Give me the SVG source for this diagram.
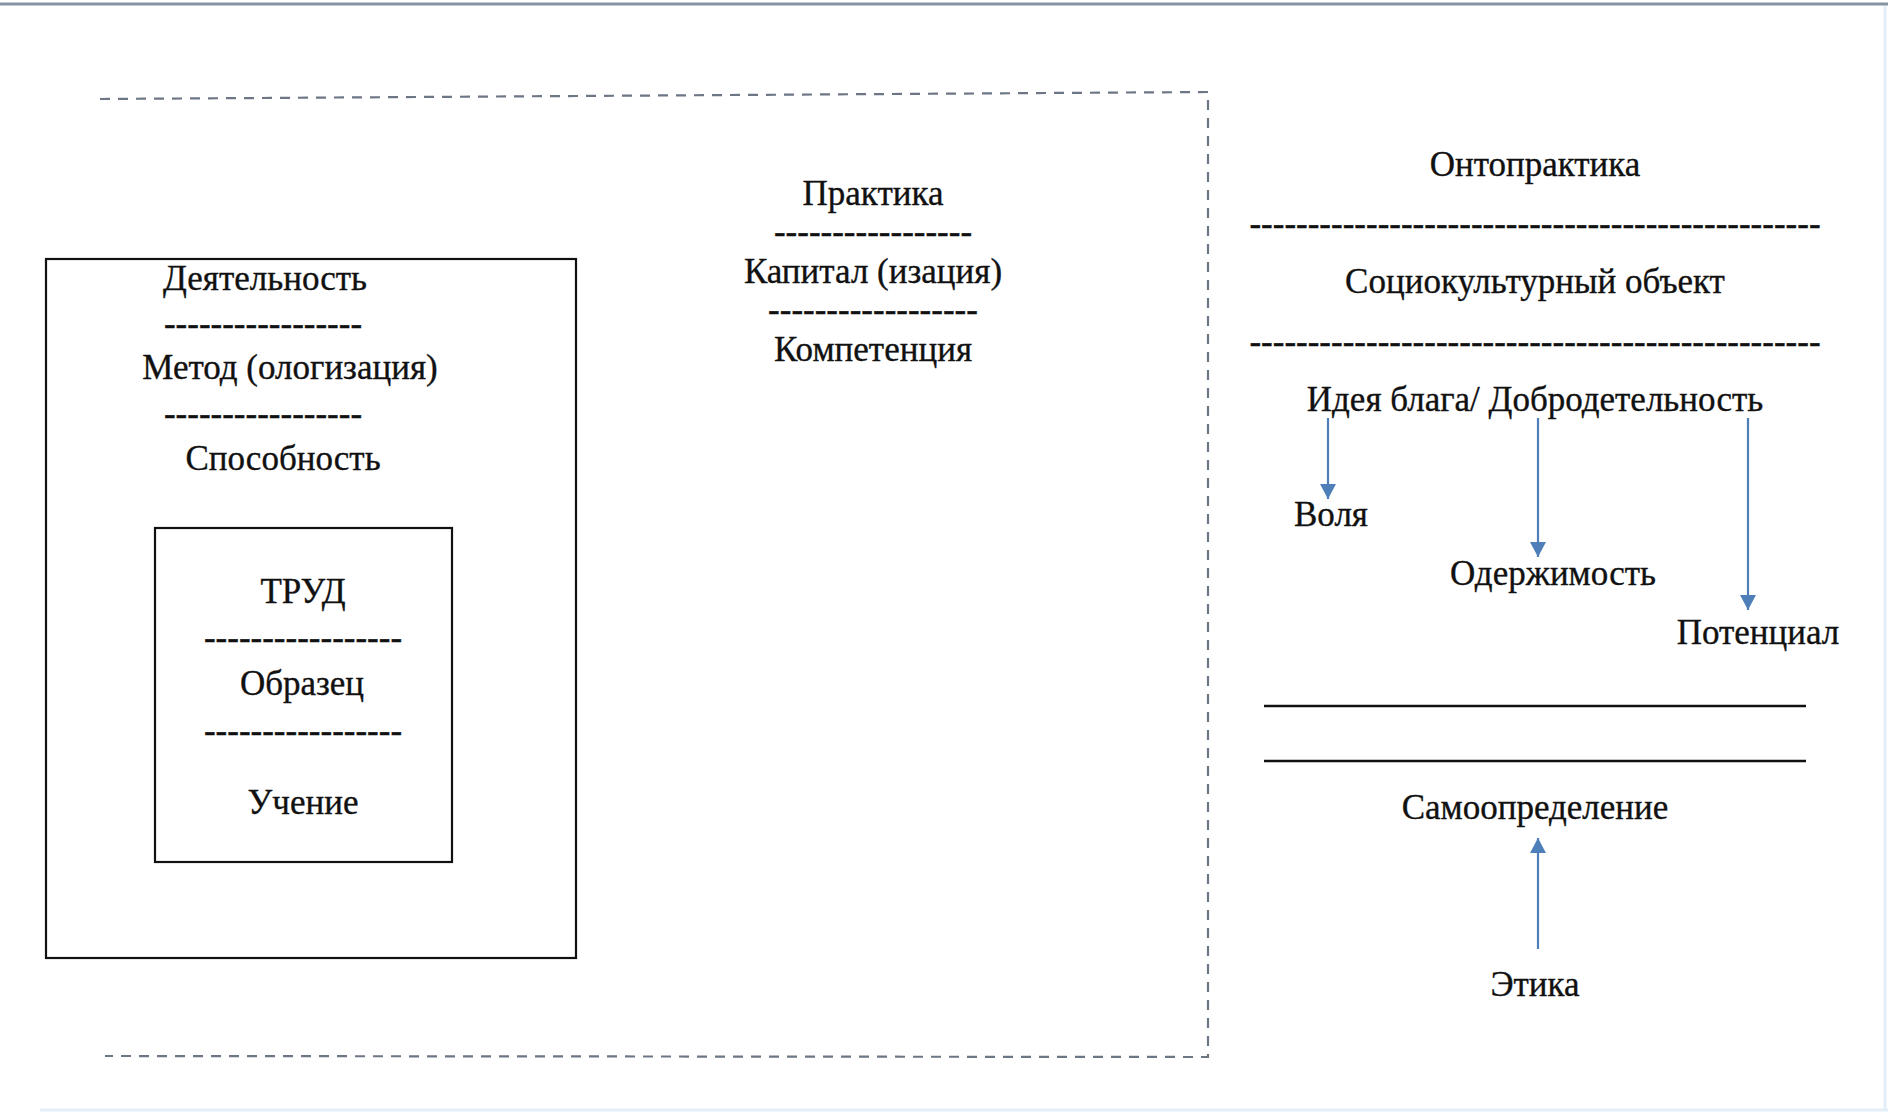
<svg xmlns="http://www.w3.org/2000/svg" width="1888" height="1113" viewBox="0 0 1888 1113">
<defs>
<style>
.t{font-family:"Liberation Serif","Times New Roman",serif;font-size:35px;fill:#111;stroke:#111;stroke-width:0.35;text-anchor:middle;dominant-baseline:central}
.box{fill:none;stroke:#111;stroke-width:2.2}
.frame{fill:none;stroke:#6c7685;stroke-width:2.2;stroke-dasharray:10 8}
.arr{fill:none;stroke:#4f7fb8;stroke-width:2.2}
.sol{stroke:#111;stroke-width:2.4}
</style>
<marker id="ah" viewBox="0 0 15 16" refX="15" refY="8" markerWidth="15" markerHeight="16" markerUnits="userSpaceOnUse" orient="auto">
<path d="M0,0 L15,8 L0,16 Z" fill="#4f7fb8"/>
</marker>
</defs>
<rect width="1888" height="1113" fill="#fff"/>
<line x1="0" y1="4" x2="1888" y2="4" stroke="#8593a3" stroke-width="3"/>
<line x1="40" y1="1110" x2="1888" y2="1110" stroke="#e3eef8" stroke-width="3"/>
<line x1="1885" y1="6" x2="1885" y2="1110" stroke="#e3eef8" stroke-width="3"/>

<g id="frame">
<path class="frame" d="M100,99 L1208,92 L1208,1057 L105,1056"/>
</g>

<g id="deyatelnost">
<rect class="box" x="46" y="259" width="530" height="699"/>
<text class="t" x="265" y="278">Деятельность</text>
<text class="t" x="263" y="323">-----------------</text>
<text class="t" x="290" y="367">Метод (ологизация)</text>
<text class="t" x="263" y="413">-----------------</text>
<text class="t" x="283" y="458">Способность</text>
</g>

<g id="trud">
<rect class="box" x="155" y="528" width="297" height="334"/>
<text class="t" x="303" y="591">ТРУД</text>
<text class="t" x="303" y="637">-----------------</text>
<text class="t" x="302" y="683">Образец</text>
<text class="t" x="303" y="730">-----------------</text>
<text class="t" x="303" y="802">Учение</text>
</g>

<g id="praktika">
<text class="t" x="873" y="193">Практика</text>
<text class="t" x="873" y="231">-----------------</text>
<text class="t" x="873" y="271">Капитал (изация)</text>
<text class="t" x="873" y="309">------------------</text>
<text class="t" x="873" y="349">Компетенция</text>
</g>

<g id="ontopraktika">
<text class="t" x="1535" y="164">Онтопрактика</text>
<text class="t" x="1535" y="223">-------------------------------------------------</text>
<text class="t" x="1535" y="281">Социокультурный объект</text>
<text class="t" x="1535" y="341">-------------------------------------------------</text>
<text class="t" x="1535" y="399">Идея блага/ Добродетельность</text>
</g>

<g id="volya"><text class="t" x="1331" y="514">Воля</text></g>
<g id="oderzhimost"><text class="t" x="1553" y="573">Одержимость</text></g>
<g id="potencial"><text class="t" x="1758" y="632">Потенциал</text></g>

<g id="separators">
<line class="sol" x1="1264" y1="706" x2="1806" y2="706"/>
<line class="sol" x1="1264" y1="761" x2="1806" y2="761"/>
</g>

<g id="samoopredelenie"><text class="t" x="1535" y="807">Самоопределение</text></g>
<g id="etika"><text class="t" x="1535" y="984">Этика</text></g>

<g id="connectors">
<line class="arr" x1="1328" y1="418" x2="1328" y2="499" marker-end="url(#ah)"/>
<line class="arr" x1="1538" y1="418" x2="1538" y2="557" marker-end="url(#ah)"/>
<line class="arr" x1="1748" y1="418" x2="1748" y2="610" marker-end="url(#ah)"/>
<line class="arr" x1="1538" y1="949" x2="1538" y2="838" marker-end="url(#ah)"/>
</g>
</svg>
